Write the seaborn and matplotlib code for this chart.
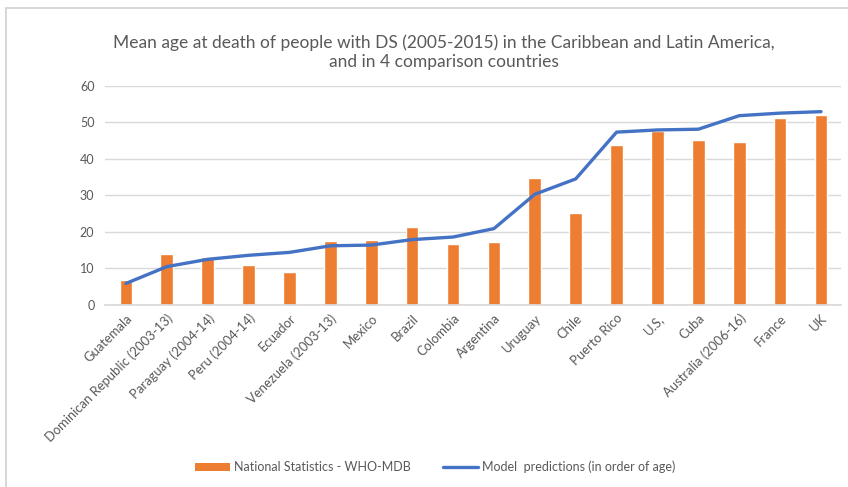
import matplotlib
matplotlib.use("Agg")
import matplotlib.pyplot as plt
from matplotlib.patches import Rectangle, Patch
from matplotlib.lines import Line2D
import seaborn as sns
import pandas as pd

countries = [
    "Guatemala", "Dominican Republic (2003-13)", "Paraguay (2004-14)",
    "Peru (2004-14)", "Ecuador", "Venezuela (2003-13)", "Mexico", "Brazil",
    "Colombia", "Argentina", "Uruguay", "Chile", "Puerto Rico", "U.S,",
    "Cuba", "Australia (2006-16)", "France", "UK",
]
national_stats = [6.8, 13.9, 13.0, 10.9, 9.1, 17.5, 17.9, 21.4, 16.8,
                  17.2, 34.8, 25.3, 43.7, 47.5, 45.2, 44.6, 51.3, 52.0]
model_pred = [5.9, 10.5, 12.5, 13.6, 14.4, 16.2, 16.4, 17.9, 18.6,
              20.9, 30.3, 34.5, 47.3, 47.9, 48.1, 51.8, 52.5, 52.9]
y_ticks = [0, 10, 20, 30, 40, 50, 60]

title = ("Mean age at death of people with DS (2005-2015) in the Caribbean and Latin America,\n"
         "and in 4 comparison countries")
bar_label = "National Statistics - WHO-MDB"
line_label = "Model  predictions (in order of age)"

df = pd.DataFrame({"country": countries, "stats": national_stats, "model": model_pred})

sns.set_theme(style="white")
plt.rcParams["font.family"] = ["Lato", "DejaVu Sans"]

ORANGE = "#ED7D31"
BLUE = "#4472C4"
TXT = "#595959"

fig = plt.figure(figsize=(8.48, 4.87), dpi=100)
ax = fig.add_axes([0.1244, 0.3737, 0.8679, 0.4503])

sns.barplot(data=df, x="country", y="stats", order=countries, color=ORANGE,
            width=0.31, saturation=1, ax=ax, zorder=2)
sns.lineplot(data=df, x="country", y="model", color=BLUE, linewidth=2.4,
             sort=False, ax=ax, zorder=3)

ax.set_xlim(-0.5, len(countries) - 0.5)
ax.set_ylim(0, 60)
ax.set_yticks(y_ticks)
ax.set_xlabel("")
ax.set_ylabel("")
ax.yaxis.grid(True, color="#d9d9d9", linewidth=1.0, zorder=0)
ax.set_axisbelow(True)
for side in ["top", "right", "left"]:
    ax.spines[side].set_visible(False)
ax.spines["bottom"].set_color("#d9d9d9")
ax.tick_params(axis="both", length=0, colors=TXT, labelsize=9)
ax.tick_params(axis="x", labelsize=9.4, pad=5)
ax.tick_params(axis="y", pad=8)
plt.setp(ax.get_xticklabels(), rotation=45, ha="right", rotation_mode="anchor")

fig.text(0.523, 0.893, title, ha="center", va="center", fontsize=12.5,
         color=TXT, linespacing=1.25)

handles = [Patch(facecolor=ORANGE, edgecolor="none"),
           Line2D([0], [0], color=BLUE, linewidth=2.4)]
fig.legend(handles, [bar_label, line_label], loc="center",
           bbox_to_anchor=(0.513, 0.041), ncol=2, frameon=False,
           fontsize=9, labelcolor=TXT, handlelength=2.8, handletextpad=0.3,
           columnspacing=2.6)

fig.patches.append(Rectangle((6 / 848, -0.01), 1.1, 1 - 8 / 487 + 0.01,
                             transform=fig.transFigure, fill=False,
                             edgecolor="#d0d0d0", linewidth=1.2))

fig.savefig("out.png", dpi=100, facecolor="white")
